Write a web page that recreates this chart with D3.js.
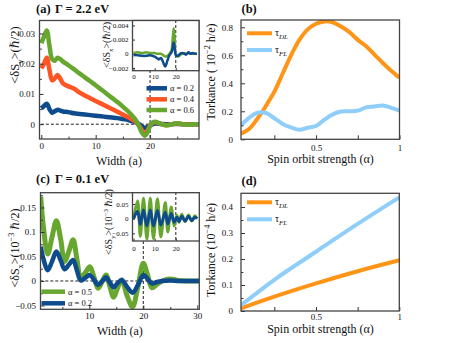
<!DOCTYPE html>
<html>
<head>
<meta charset="UTF-8">
<script src="https://d3js.org/d3.v7.min.js"></script>
<style>
  body { margin: 0; background: #fff; }
  svg text { font-family: "Liberation Serif", "DejaVu Serif", serif; fill: #111; }
</style>
</head>
<body>
<svg width="457" height="343"></svg>
<script>
// ---- (a) Gamma = 2.2 eV, <dSy> vs width
const aWidth = [0, 0.5, 1, 1.5, 2, 2.5, 3, 3.5, 4, 5, 6, 7, 8, 9, 10, 11, 12, 13, 14, 15, 16, 17, 17.5, 18, 18.5, 19, 19.5, 20, 20.5, 21, 22, 23, 24, 25, 26, 27, 28, 29];
const aAlpha02 = [0.0052, 0.006, 0.0068, 0.005, 0.0038, 0.0043, 0.0048, 0.0045, 0.0042, 0.004, 0.0036, 0.0034, 0.0032, 0.003, 0.0028, 0.0026, 0.0024, 0.0022, 0.002, 0.0017, 0.0014, 0.0008, 0.0004, 0, -0.0008, -0.0012, -0.001, -0.0005, 0, 0.0002, 0.0001, 0, 0, 0.0001, 0, 0, 0, 0];
const aAlpha04 = [0.0185, 0.02, 0.022, 0.018, 0.0145, 0.0152, 0.0163, 0.015, 0.0135, 0.0125, 0.0118, 0.0105, 0.0095, 0.0086, 0.0077, 0.0068, 0.0059, 0.005, 0.0041, 0.0032, 0.0023, 0.0013, 0.0006, -0.0005, -0.002, -0.003, -0.0022, -0.0004, 0.0005, 0.0006, 0.0001, -0.0003, 0, 0.0002, 0, -0.0001, 0, 0];
const aAlpha06 = [0.0268, 0.029, 0.031, 0.026, 0.0215, 0.021, 0.022, 0.0215, 0.0207, 0.0195, 0.0182, 0.0168, 0.0155, 0.0142, 0.0129, 0.0115, 0.0101, 0.0087, 0.0073, 0.0058, 0.0042, 0.0022, 0.001, -0.0008, -0.0028, -0.0038, -0.0028, -0.0006, 0.0006, 0.0008, 0.0001, -0.0004, 0, 0.0003, 0, -0.0002, 0, 0];
// inset (a): <dSx>
const aInsetWidth = [0, 2, 4, 6, 8, 10, 11, 12, 13, 14, 15, 16, 17, 18, 18.5, 19, 19.5, 20, 21, 22, 23, 24, 25, 26, 27, 28, 29, 30];
const aInset06 = [0.0001, 0.0002, 0.0001, 0.0002, 0.0001, 0.0001, 0, 0, 0, -0.0002, -0.0004, -0.0003, 0, 0.0005, 0.002, 0.0036, 0.002, 0, -0.0004, -0.0002, 0, 0.0001, 0, 0.0001, 0, 0, 0, 0];
const aInset02 = [-0.0002, -0.0002, -0.0003, -0.0003, -0.0002, -0.0004, -0.0006, -0.0008, -0.0006, -0.0012, -0.0018, -0.001, -0.0002, 0.0002, 0.0008, 0.0016, 0.0008, -0.0002, -0.0003, 0, 0.0001, 0, -0.0001, 0.0002, 0, 0.0001, 0, 0];

// ---- (b) torkance, Gamma = 2.2 eV
const bAlpha = [0.05, 0.1, 0.15, 0.2, 0.25, 0.3, 0.35, 0.4, 0.45, 0.5, 0.55, 0.6, 0.65, 0.7, 0.75, 0.8, 0.85, 0.9, 0.95, 1];
const bTauDL = [0.04, 0.075, 0.15, 0.24, 0.34, 0.47, 0.6, 0.71, 0.785, 0.825, 0.842, 0.835, 0.805, 0.765, 0.71, 0.665, 0.605, 0.545, 0.49, 0.44];
const bTauFL = [0.1, 0.155, 0.19, 0.188, 0.15, 0.11, 0.085, 0.068, 0.083, 0.095, 0.14, 0.178, 0.198, 0.2, 0.205, 0.228, 0.235, 0.242, 0.225, 0.205];

// ---- (c) Gamma = 0.1 eV, <dSx> vs width
const cWidth = [1, 1.5, 2.3, 3.1, 3.9, 4.7, 5.4, 6.2, 7, 7.7, 8.4, 9.2, 10.1, 10.9, 11.6, 12.4, 13.1, 13.8, 14.5, 15.2, 16, 17, 18, 19, 20, 20.8, 21.6, 22.5, 23.5, 25, 26.5, 28, 30.4];
const cAlpha05 = [0.172, 0.11, 0.055, 0.09, 0.123, 0.085, 0.04, 0.06, 0.084, 0.045, 0.006, 0.016, 0.029, 0.007, -0.015, -0.001, 0.012, -0.011, -0.033, -0.015, 0.002, -0.03, -0.053, -0.012, 0.036, 0.012, -0.014, -0.007, 0, 0.004, 0.001, 0, 0];
const cAlpha02 = [0.07, 0.045, 0.022, 0.04, 0.06, 0.042, 0.024, 0.033, 0.043, 0.022, 0.001, 0.006, 0.012, 0.002, -0.008, 0, 0.0075, -0.003, -0.013, -0.005, 0.002, -0.012, -0.024, -0.008, 0.012, 0.004, -0.005, -0.002, 0, 0.001, 0, 0, 0];
// inset (c): <dSy>
const cInsetWidth = [0, 1.9, 3.2, 4.7, 6.3, 7.9, 9.4, 11.3, 12.9, 15, 16.2, 17.8, 19.2, 20.5, 21.5, 22.8, 24.4, 26, 27.5, 29, 30];
const cInset05 = [0, 0.06, -0.06, 0.07, -0.07, 0.07, -0.068, 0.068, -0.062, 0.055, -0.045, 0.04, -0.025, 0.012, -0.012, 0.015, -0.01, 0.013, -0.008, 0.01, 0];
const cInset02 = [0, 0.025, -0.02, 0.03, -0.025, 0.03, -0.025, 0.028, -0.022, 0.022, -0.018, 0.018, -0.012, 0.005, -0.01, 0.008, -0.008, 0.008, -0.006, 0.005, 0];

// ---- (d) torkance, Gamma = 0.1 eV
const dAlpha = [0.05, 0.25, 0.5, 0.75, 1];
const dTauDL = [0.01, 0.055, 0.106, 0.153, 0.195];
const dTauFL = [0.022, 0.12, 0.228, 0.335, 0.437];

// tick values
const aXTicks = [0, 10, 20], aXMinor = [5, 15, 25];
const aYTicks = [0, 0.01, 0.02, 0.03], aYMinor = [0.005, 0.015, 0.025];
const aInXTicks = [0, 10, 20], aInYTicks = [-0.002, 0, 0.002, 0.004];
const bXTicks = [0.25, 0.5, 0.75, 1], bXLabels = ["", "0.5", "", "1"];
const bYTicks = [0, 0.2, 0.4, 0.6, 0.8], bYMinor = [0.1, 0.3, 0.5, 0.7];
const cXTicks = [10, 20, 30], cXMinor = [5, 15, 25];
const cYTicks = [-0.05, 0, 0.05, 0.1, 0.15], cYMinor = [-0.025, 0.025, 0.075, 0.125, 0.175];
const cInXTicks = [0, 10, 20], cInYTicks = [-0.05, 0, 0.05];
const dYTicks = [0, 0.1, 0.2, 0.3, 0.4], dYMinor = [0.05, 0.15, 0.25, 0.35];

const BLUE = "#0d4b8c", RED = "#ff5424", GREEN = "#68a72f", ORANGE = "#ff9416", SKY = "#8fcdfa";

const svg = d3.select("svg");
const fmt = d => String(d).replace("-", "\u2212");
let clipN = 0;

function panel(box, xDom, yDom, o) {
  const x = d3.scaleLinear().domain(xDom).range([box.x0, box.x1]);
  const y = d3.scaleLinear().domain(yDom).range([box.y1, box.y0]);
  const g = svg.append("g");
  g.append("rect").attr("x", box.x0).attr("y", box.y0)
    .attr("width", box.x1 - box.x0).attr("height", box.y1 - box.y0).attr("fill", "#fff");
  const id = "clip" + (clipN++);
  g.append("clipPath").attr("id", id).append("rect")
    .attr("x", box.x0).attr("y", box.y0).attr("width", box.x1 - box.x0).attr("height", box.y1 - box.y0);
  const plot = g.append("g").attr("clip-path", `url(#${id})`);
  const fs = o.fs || 9, tk = o.tk || 4;

  const bx = g.append("g").attr("transform", `translate(0,${box.y1})`)
    .call(d3.axisBottom(x).tickValues(o.xTicks).tickSize(-tk).tickPadding(o.xPad || 4)
      .tickFormat((d, i) => o.xLabels ? o.xLabels[i] : fmt(d)));
  const ly = g.append("g").attr("transform", `translate(${box.x0},0)`)
    .call(d3.axisLeft(y).tickValues(o.yTicks).tickSize(-tk).tickPadding(o.yPad || 4).tickFormat(fmt));
  if (o.xMinor) g.append("g").attr("transform", `translate(0,${box.y1})`)
    .call(d3.axisBottom(x).tickValues(o.xMinor).tickSize(-tk * 0.6).tickFormat(""));
  if (o.yMinor) g.append("g").attr("transform", `translate(${box.x0},0)`)
    .call(d3.axisLeft(y).tickValues(o.yMinor.filter(v => v <= yDom[1])).tickSize(-tk * 0.6).tickFormat(""));
  g.selectAll(".domain").remove();
  g.selectAll(".tick line").attr("stroke", "#333").attr("stroke-width", 1);
  g.selectAll(".tick text").attr("font-size", fs).attr("font-family", null).attr("fill", "#111");

  const dash = (x1, y1, x2, y2) => plot.append("line")
    .attr("x1", x1).attr("y1", y1).attr("x2", x2).attr("y2", y2)
    .attr("stroke", "#222").attr("stroke-width", 1).attr("stroke-dasharray", "3,2");
  return { x, y, g, plot, dash, box,
    border() {
      g.append("rect").attr("x", box.x0).attr("y", box.y0)
        .attr("width", box.x1 - box.x0).attr("height", box.y1 - box.y0)
        .attr("fill", "none").attr("stroke", "#444").attr("stroke-width", 1.3);
    },
    line(xs, ys, color, w) {
      const ln = d3.line().x((d, i) => x(xs[i])).y(d => y(d)).curve(d3.curveCatmullRom.alpha(0.5));
      plot.append("path").attr("d", ln(ys)).attr("fill", "none")
        .attr("stroke", color).attr("stroke-width", w).attr("stroke-linejoin", "round");
    }
  };
}

// rich text with sub/superscripts
function rich(t, parts, fs) {
  let shift = 0;
  parts.forEach(([s, k]) => {
    const target = k && k.includes("sub") ? 0.3 : k === "sup" ? -0.45 : 0;
    const ts = t.append("tspan").text(s).attr("dy", (target - shift) * fs);
    if (k) ts.attr("font-size", fs * 0.7);
    if (k && k.includes("it")) ts.attr("font-style", "italic");
    shift = target;
  });
  return t;
}
function ylabel(x, y, parts, fs) {
  const t = svg.append("text").attr("transform", `translate(${x},${y}) rotate(-90)`)
    .attr("text-anchor", "middle").attr("font-size", fs);
  return rich(t, parts, fs);
}
function text(x, y, s, fs, o = {}) {
  return svg.append("text").attr("x", x).attr("y", y).attr("font-size", fs)
    .attr("text-anchor", o.anchor || "start").attr("font-weight", o.bold ? "bold" : null)
    .attr("fill", o.fill || "#111").text(s);
}
function legend(x1, x2, y, color, w, parts, fs) {
  svg.append("line").attr("x1", x1).attr("x2", x2).attr("y1", y).attr("y2", y)
    .attr("stroke", color).attr("stroke-width", w);
  const t = svg.append("text").attr("x", x2 + 3).attr("y", y + 3).attr("font-size", fs);
  rich(t, parts, fs);
}

// ===== (a)
const A = panel({ x0: 39.5, x1: 199, y0: 20.5, y1: 139 }, [-0.33, 29], [-0.0049, 0.0343],
  { xTicks: aXTicks, xMinor: aXMinor, yTicks: aYTicks, yMinor: aYMinor, xPad: 4, yPad: 4.5 });
A.dash(A.x(-1), A.y(0), A.x(30), A.y(0));
A.dash(A.x(20), 70, A.x(20), 140);
A.line(aWidth, aAlpha02, BLUE, 4.5);
A.line(aWidth, aAlpha04, RED, 4.5);
A.line(aWidth, aAlpha06, GREEN, 4.5);
A.border();
const AI = panel({ x0: 132.5, x1: 199, y0: 20.5, y1: 70.7 }, [-0.5, 31], [-0.0024, 0.0047],
  { xTicks: aInXTicks, yTicks: aInYTicks, fs: 7, tk: 2.5, xPad: 3.5, yPad: 4 });
AI.dash(AI.x(20), 20, AI.x(20), 71);
AI.line(aInsetWidth, aInset06, GREEN, 2.5);
AI.line(aInsetWidth, aInset02, BLUE, 2.5);
AI.border();
legend(146.5, 167, 88.3, BLUE, 4.5, [["\u03b1 = 0.2"]], 8.5);
legend(146.5, 167, 99.3, RED, 4.5, [["\u03b1 = 0.4"]], 8.5);
legend(146.5, 167, 110, GREEN, 4.5, [["\u03b1 = 0.6"]], 8.5);
text(36, 13, "(a)", 12.5, { bold: true });
text(55, 13, "\u0393 = 2.2 eV", 12.5, { bold: true, fill: "#ff4a1c" });
ylabel(19, 55, [["<\u03b4S"], ["y", "sub"], [">(\u210f/2)"]], 12.5);
ylabel(110, 45, [["<\u03b4S"], ["x", "sub"], [">(\u210f/2)"]], 10);
text(119, 165, "Width (a)", 12, { anchor: "middle" });

// ===== (b)
const B = panel({ x0: 241, x1: 399.5, y0: 20, y1: 139.3 }, [0.05, 1], [0, 0.852],
  { xTicks: bXTicks, xLabels: bXLabels, yTicks: bYTicks, yMinor: bYMinor, xPad: 5, yPad: 8 });
B.line(bAlpha, bTauDL, ORANGE, 4);
B.line(bAlpha, bTauFL, SKY, 4);
B.border();
legend(247, 272, 33.3, ORANGE, 4, [["\u03c4"], ["DL", "it-sub"]], 10);
legend(247, 272, 50, SKY, 4, [["\u03c4"], ["FL", "it-sub"]], 10);
text(241.5, 13, "(b)", 12.5, { bold: true });
ylabel(215, 72, [["Torkance ( 10"], ["\u22122", "sup"], [" h/e)"]], 12);
text(320.5, 163, "Spin orbit strength (\u03b1)", 12, { anchor: "middle" });

// ===== (c)
const C = panel({ x0: 40.5, x1: 199.3, y0: 192.7, y1: 309.3 }, [0.96, 30.37], [-0.0578, 0.1802],
  { xTicks: cXTicks, xMinor: cXMinor, yTicks: cYTicks, yMinor: cYMinor, xPad: 3, yPad: 4.5 });
C.dash(C.x(0), C.y(0), C.x(31), C.y(0));
C.dash(C.x(20), 241, C.x(20), 310);
C.line(cWidth, cAlpha05, GREEN, 5);
C.line(cWidth, cAlpha02, BLUE, 4.5);
C.border();
const CI = panel({ x0: 132.5, x1: 199.3, y0: 192.7, y1: 241 }, [-0.5, 31.1], [-0.0761, 0.0887],
  { xTicks: cInXTicks, yTicks: cInYTicks, fs: 7, tk: 2.5, xPad: 5, yPad: 4 });
CI.dash(CI.x(20), 192, CI.x(20), 242);
CI.line(cInsetWidth, cInset05, GREEN, 3);
CI.line(cInsetWidth, cInset02, BLUE, 3);
CI.border();
legend(41.5, 65, 291.7, GREEN, 4.5, [["\u03b1 = 0.5"]], 8.5);
legend(41.5, 65, 303.3, BLUE, 4.5, [["\u03b1 = 0.2"]], 8.5);
text(36, 183, "(c)", 12.5, { bold: true });
text(55, 183, "\u0393 = 0.1 eV", 12.5, { bold: true, fill: "#ff4a1c" });
ylabel(19, 248, [["<\u03b4S"], ["x", "sub"], [">(10"], ["\u22123", "sup"], [" \u210f/2)"]], 12);
ylabel(112, 222, [["<\u03b4S"], ["y", "sub"], [">(10"], ["\u22123", "sup"], [" \u210f/2)"]], 10);
text(119.9, 335, "Width (a)", 12, { anchor: "middle" });

// ===== (d)
const D = panel({ x0: 241, x1: 399.3, y0: 193.3, y1: 311 }, [0.05, 1], [0, 0.4527],
  { xTicks: bXTicks, xLabels: bXLabels, yTicks: dYTicks, yMinor: dYMinor, xPad: 3, yPad: 8 });
D.line(dAlpha, dTauDL, ORANGE, 4);
D.line(dAlpha, dTauFL, SKY, 4);
D.border();
legend(247, 272, 202.3, ORANGE, 4, [["\u03c4"], ["DL", "it-sub"]], 10);
legend(247, 272, 219.3, SKY, 4, [["\u03c4"], ["FL", "it-sub"]], 10);
text(241.5, 184.5, "(d)", 12.5, { bold: true });
ylabel(215, 250, [["Torkance (10"], ["\u22124", "sup"], [" h/e)"]], 12);
text(320.5, 333, "Spin orbit strength (\u03b1)", 12, { anchor: "middle" });
</script>
</body>
</html>
